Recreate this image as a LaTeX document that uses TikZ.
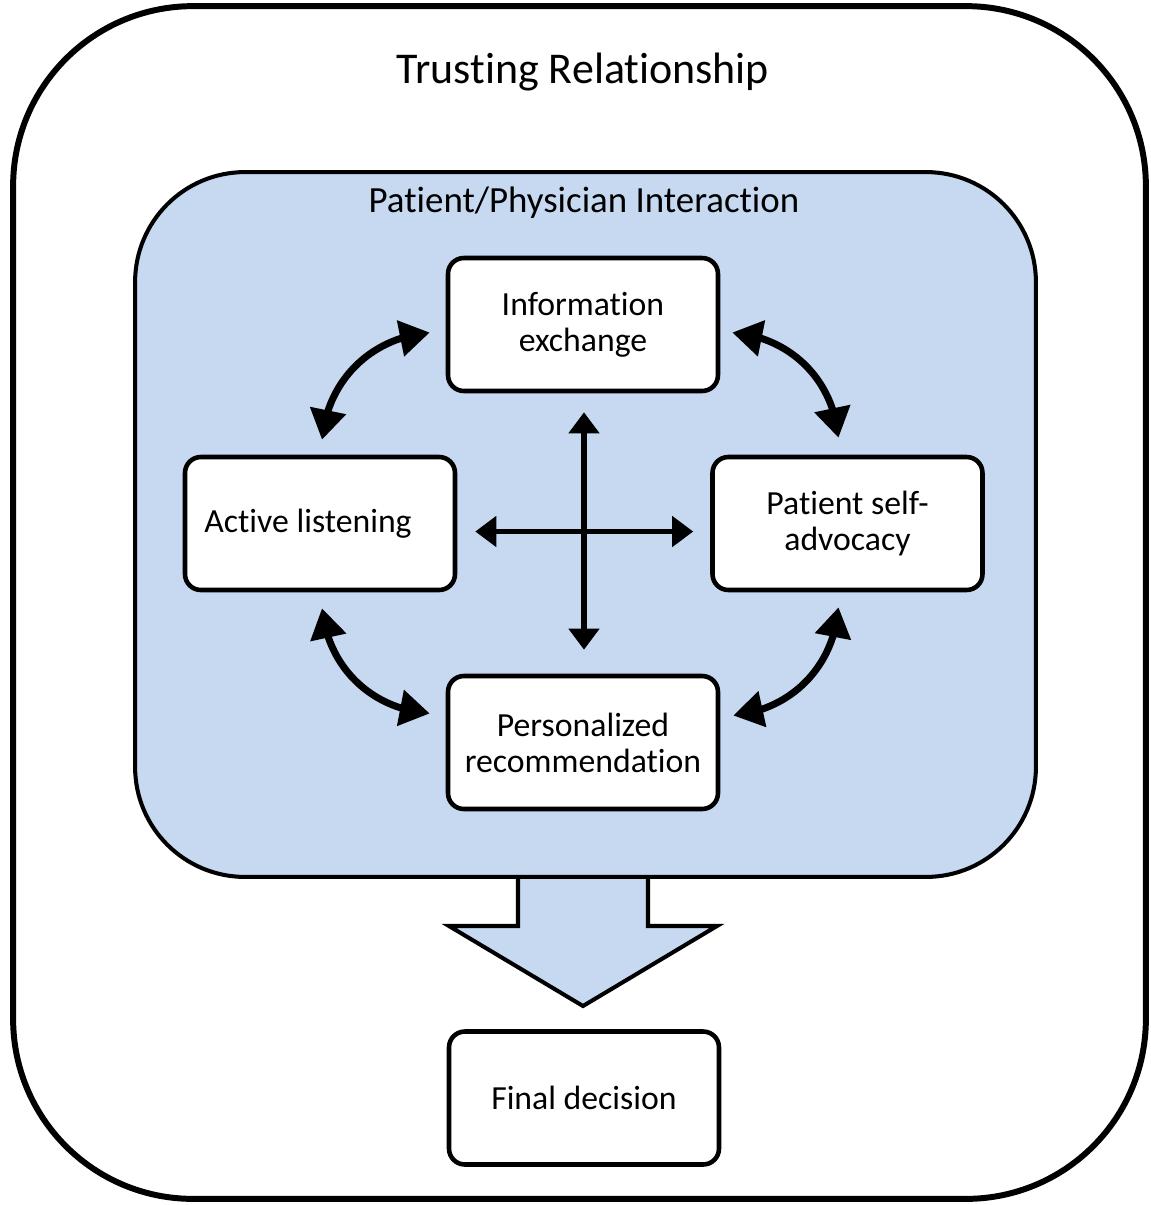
\documentclass[tikz,border=0pt]{standalone}
\usepackage{fontspec}
\setmainfont{Carlito}[Ligatures=NoCommon]
\usetikzlibrary{arrows.meta,calc,bending}
\definecolor{paleblue}{RGB}{198,217,240}

\begin{document}
\begin{tikzpicture}[x=0.02cm,y=-0.02cm,
  main box/.style={draw,line width=2.6pt,rounded corners=9pt,fill=white,
    minimum width=5.4cm,minimum height=2.66cm,inner sep=0pt,align=center,
    font=\fontsize{19.2}{20.5}\selectfont},
  loop arrow/.style={{Triangle[length=17pt,width=20pt]}-{Triangle[length=17pt,width=20pt]},line width=4pt},
  cross arrow/.style={{Triangle[length=12pt,width=17pt]}-{Triangle[length=12pt,width=17pt]},line width=3pt}]
  \useasboundingbox (0,0) rectangle (1151,1205);
  % frames
  \node[draw,line width=3.4pt,rounded corners=3.6cm,fill=white,
    minimum width=22.66cm,minimum height=23.86cm] (trust) at (579.5,602.5) {};
  \node[font=\fontsize{25}{30}\selectfont] (title) at (583,72) {Trusting Relationship};
  \draw[fill=paleblue,line width=2.3pt] (518,877) -- (518,926) -- (449,926)
    -- (583,1006) -- (717,926) -- (648,926) -- (648,877);
  \node[draw,line width=2.3pt,rounded corners=2.2cm,fill=paleblue,
    minimum width=18.02cm,minimum height=14.1cm] (interaction) at (585.5,524.5) {};
  \node[font=\fontsize{21}{25}\selectfont] (label) at (584,203) {Patient/Physician Interaction};
  % boxes
  \node[main box] (info) at (583,324.5) {Information\\exchange};
  \node[main box] (active) at (320,523.5) {Active listening\hspace*{0.48cm}};
  \node[main box] (advocacy) at (847.5,523.5) {Patient self-\\advocacy};
  \node[main box] (rec) at (583,742.5) {Personalized\\recommendation};
  \node[main box] (final) at (584,1098) {Final decision};
  % arrows
  \path[loop arrow]
    ($(info.west)+(-16,8)$) edge[bend right=40] ($(active.north)+(2,-15)$)
    ($(info.east)+(12,8)$) edge[bend left=40] ($(advocacy.north)+(-9,-17)$)
    ($(active.south)+(2,16)$) edge[bend right=40] ($(rec.west)+(-16,-29)$)
    ($(advocacy.south)+(-9,15)$) edge[bend left=40] ($(rec.east)+(13,-27)$);
  \path[cross arrow]
    ($(info.south)+(1,19)$) edge ($(rec.north)+(1,-24)$)
    ($(active.east)+(18,8)$) edge ($(advocacy.west)+(-17,8)$);
\end{tikzpicture}
\end{document}
